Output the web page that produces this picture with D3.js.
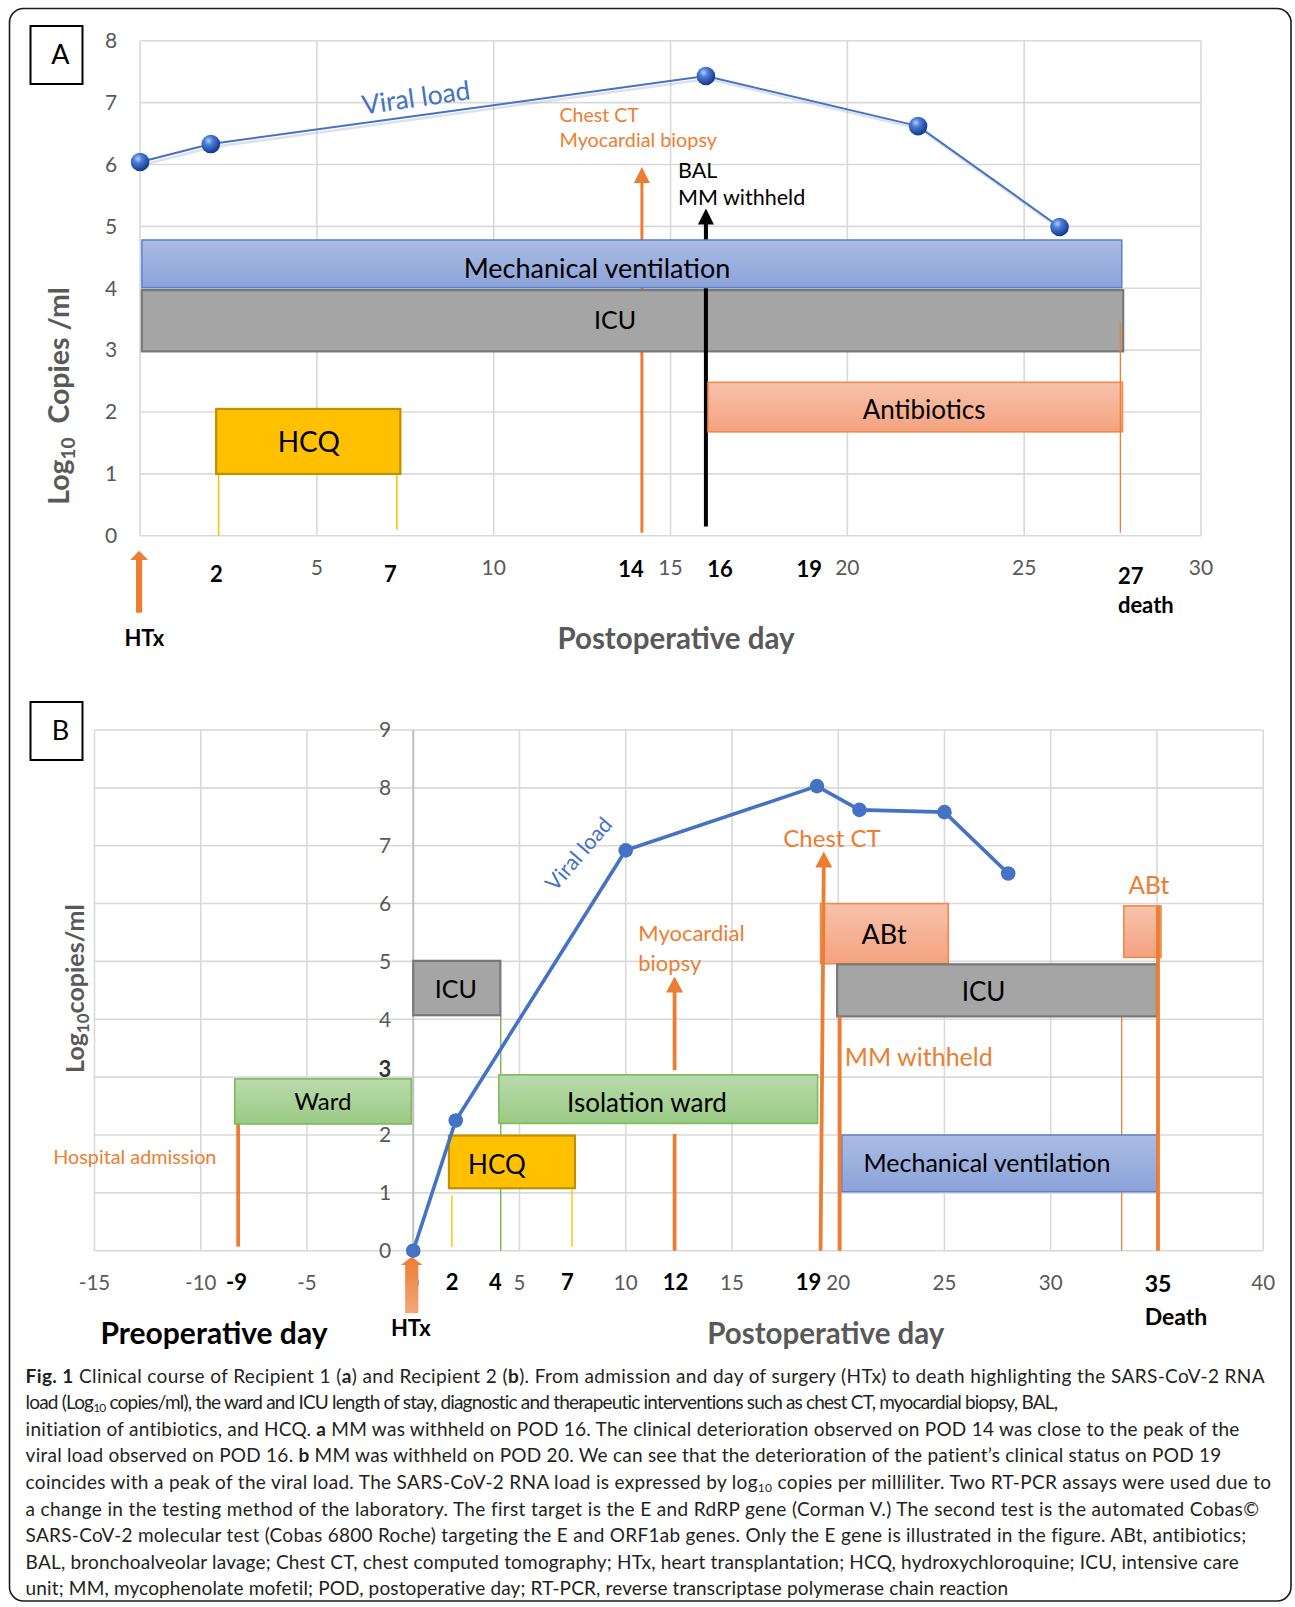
<!DOCTYPE html>
<html><head><meta charset="utf-8">
<script src="https://cdn.jsdelivr.net/npm/d3@7"></script>
<style>
body{margin:0;background:#fff}
svg{display:block}
text{font-family:Lato,"Open Sans",sans-serif}
</style>
</head><body>
<svg id="c" width="1295" height="1607"></svg>
<script>
// ---------------- DATA : Panel A (Recipient 1) ----------------
const daysA = [0, 2, 16, 22, 26];
const loadA = [6.04, 6.33, 7.43, 6.62, 4.99];
const xTicksA = [5, 10, 15, 20, 25, 30];
const yTicksA = [0, 1, 2, 3, 4, 5, 6, 7, 8];
const boldDaysA = [{t: "2", d: 2.16}, {t: "7", d: 7.08}, {t: "14", d: 13.88}, {t: "16", d: 16.4}, {t: "19", d: 18.92}];
const periodsA = [
  {name: "ICU", kind: "icu", start: 0.05, end: 27.8, lo: 2.98, hi: 3.97},
  {name: "Mechanical ventilation", kind: "mv", start: 0.05, end: 27.76, lo: 4.01, hi: 4.78},
  {name: "Antibiotics", kind: "abt", start: 16.06, end: 27.78, lo: 1.68, hi: 2.48},
  {name: "HCQ", kind: "hcq", start: 2.15, end: 7.36, lo: 1.0, hi: 2.05}
];
// event markers: day, from value, to value
const eventsA = [
  {id: "ct", day: 14.19, from: 0.05, to: 5.96, kind: "orangeArrow"},
  {id: "bal", day: 16.0, from: 0.15, to: 5.29, kind: "blackArrow"},
  {id: "hcq1", day: 2.22, from: 0.0, to: 1.0, kind: "yellow"},
  {id: "hcq2", day: 7.26, from: 0.1, to: 1.0, kind: "yellow"},
  {id: "death", day: 27.72, from: 0.05, to: 3.45, kind: "thinOrange"}
];

// ---------------- DATA : Panel B (Recipient 2) ----------------
const daysB = [0, 2, 10, 19, 21, 25, 28];
const loadB = [0, 2.25, 6.92, 8.03, 7.62, 7.58, 6.52];
const xTicksB = [-15, -10, -5, 0, 5, 10, 15, 20, 25, 30, 40];
const yTicksB = [0, 1, 2, 3, 4, 5, 6, 7, 8, 9];
const boldDaysB = [{t: "-9", d: -8.32}, {t: "2", d: 1.83}, {t: "4", d: 3.87}, {t: "7", d: 7.25}, {t: "12", d: 12.34}, {t: "19", d: 18.6}];
const periodsB = [
  {name: "ICU", kind: "icu", start: 0.0, end: 4.1, lo: 4.07, hi: 5.01},
  {name: "Ward", kind: "ward", start: -8.4, end: -0.09, lo: 2.19, hi: 2.97},
  {name: "Isolation ward", kind: "ward", start: 4.03, end: 19.03, lo: 2.2, hi: 3.04},
  {name: "HCQ", kind: "hcq", start: 1.68, end: 7.61, lo: 1.08, hi: 1.99},
  {name: "ABt", kind: "abt", start: 19.17, end: 25.18, lo: 4.96, hi: 6.0},
  {name: "", kind: "abt", start: 33.44, end: 35.19, lo: 5.07, hi: 5.96},
  {name: "ICU", kind: "icu", start: 19.95, end: 35.0, lo: 4.05, hi: 4.95},
  {name: "Mechanical ventilation", kind: "mv", start: 20.17, end: 34.99, lo: 1.02, hi: 2.0}
];
const eventsB = [
  {id: "green", day: 4.12, from: 0, to: 4.07, kind: "green", layer: "under"},
  {id: "hcq1", day: 1.82, from: 0.07, to: 0.96, kind: "yellow", layer: "under"},
  {id: "hcq2", day: 7.47, from: 0.07, to: 1.05, kind: "yellow", layer: "under"},
  {id: "adm", day: -8.24, from: 0.07, to: 2.19, kind: "orange", layer: "under"},
  {id: "bio1", day: 12.3, from: 0, to: 2.02, kind: "orange", layer: "under"},
  {id: "bio2", day: 12.3, from: 3.12, to: 4.74, kind: "orangeArrow", layer: "under"},
  {id: "thin", day: 33.34, from: 0, to: 4.05, kind: "thinOrange", layer: "under"},
  {id: "ct", day: 19.17, day2: 19.32, from: 0, to: 6.9, kind: "orangeArrow", layer: "over"},
  {id: "mm", day: 20.07, from: 0, to: 4.05, kind: "orange", layer: "over"},
  {id: "death", day: 35.05, from: 0, to: 5.96, kind: "orange", layer: "over"}
];

// ---------------- CAPTION ----------------
const captionLines = [
  [["b","Fig. 1"],["n"," Clinical course of Recipient 1 ("],["b","a"],["n",") and Recipient 2 ("],["b","b"],["n","). From admission and day of surgery (HTx) to death highlighting the SARS-CoV-2 RNA"]],
  [["n","load (Log"],["s","10"],["n"," copies/ml), the ward and ICU length of stay, diagnostic and therapeutic interventions such as chest CT, myocardial biopsy, BAL,"]],
  [["n","initiation of antibiotics, and HCQ. "],["b","a"],["n"," MM was withheld on POD 16. The clinical deterioration observed on POD 14 was close to the peak of the"]],
  [["n","viral load observed on POD 16. "],["b","b"],["n"," MM was withheld on POD 20. We can see that the deterioration of the patient\u2019s clinical status on POD 19"]],
  [["n","coincides with a peak of the viral load. The SARS-CoV-2 RNA load is expressed by log"],["s","10"],["n"," copies per milliliter. Two RT-PCR assays were used due to"]],
  [["n","a change in the testing method of the laboratory. The first target is the E and RdRP gene (Corman V.) The second test is the automated Cobas\u00a9"]],
  [["n","SARS-CoV-2 molecular test (Cobas 6800 Roche) targeting the E and ORF1ab genes. Only the E gene is illustrated in the figure. ABt, antibiotics;"]],
  [["n","BAL, bronchoalveolar lavage; Chest CT, chest computed tomography; HTx, heart transplantation; HCQ, hydroxychloroquine; ICU, intensive care"]],
  [["n","unit; MM, mycophenolate mofetil; POD, postoperative day; RT-PCR, reverse transcriptase polymerase chain reaction"]]
];
const captionEnds = [1265, 1059, 1241, 1222, 1271, 1259, 1247, 1239, 1009];

// ---------------- RENDER ----------------
const svg = d3.select("#c");
const defs = svg.append("defs");
function vgrad(id, top, bot) {
  const g = defs.append("linearGradient").attr("id", id).attr("x1", 0).attr("y1", 0).attr("x2", 0).attr("y2", 1);
  g.append("stop").attr("offset", "0%").attr("stop-color", top);
  g.append("stop").attr("offset", "100%").attr("stop-color", bot);
}
vgrad("gMV", "#AABCE4", "#8CA3D9");
vgrad("gAB", "#F7C2AB", "#F4A27F");
vgrad("gWD", "#BADBAC", "#9ACA84");
vgrad("gHTx", "#ED7D31", "#F4A679");
const sph = defs.append("radialGradient").attr("id", "gSph").attr("cx", "38%").attr("cy", "32%").attr("r", "68%");
sph.append("stop").attr("offset", "0%").attr("stop-color", "#B5CDF7");
sph.append("stop").attr("offset", "35%").attr("stop-color", "#4A7BD8");
sph.append("stop").attr("offset", "100%").attr("stop-color", "#16378A");

const ORANGE = "#ED7D31", BLUE = "#4472C4", GRID = "#D9D9D9", TICK = "#595959";
const styles = {
  mv:  {fill: "url(#gMV)", stroke: "#5B80CE", sw: 1.5},
  icu: {fill: "#A5A5A5", stroke: "#787878", sw: 2.2},
  abt: {fill: "url(#gAB)", stroke: "#F0894A", sw: 1.6},
  hcq: {fill: "#FFC000", stroke: "#BF9000", sw: 2.2},
  ward:{fill: "url(#gWD)", stroke: "#7DBA5E", sw: 1.6}
};

// outer frame
svg.append("rect").attr("x", 9.5).attr("y", 8.5).attr("width", 1281.5).attr("height", 1592.5)
  .attr("rx", 14).attr("fill", "none").attr("stroke", "#1a1a1a").attr("stroke-width", 1.6);

function panelBox(g, x, y, letter) {
  g.append("rect").attr("x", x).attr("y", y).attr("width", 52).attr("height", 58)
    .attr("fill", "#fff").attr("stroke", "#000").attr("stroke-width", 2);
  g.append("text").attr("x", x + 30).attr("y", y + 29).attr("dy", "0.35em").attr("text-anchor", "middle")
    .attr("font-size", 27).attr("fill", "#000").text(letter);
}

function vline(g, x1, y1, x2, y2, color, w) {
  g.append("line").attr("x1", x1).attr("y1", y1).attr("x2", x2).attr("y2", y2)
    .attr("stroke", color).attr("stroke-width", w);
}
function arrowUp(g, xb, yb, xt, yt, color, w, headW, headL) {
  vline(g, xb, yb, xt, yt + headL - 1, color, w);
  g.append("path").attr("d", `M${xt - headW / 2},${yt + headL} L${xt + headW / 2},${yt + headL} L${xt},${yt} Z`).attr("fill", color);
}
function drawPeriods(g, list, x, y) {
  g.selectAll(null).data(list).join("rect")
    .attr("x", d => x(d.start)).attr("y", d => y(d.hi))
    .attr("width", d => x(d.end) - x(d.start)).attr("height", d => y(d.lo) - y(d.hi))
    .attr("fill", d => styles[d.kind].fill).attr("stroke", d => styles[d.kind].stroke)
    .attr("stroke-width", d => styles[d.kind].sw);
}
function label(g, x, y, txt, size, opts = {}) {
  const t = g.append("text").attr("x", x).attr("y", y).attr("dy", "0.35em")
    .attr("text-anchor", opts.anchor || "middle").attr("font-size", size)
    .attr("font-weight", opts.weight || 400).attr("fill", opts.color || "#000").text(txt);
  if (opts.rotate) t.attr("transform", `rotate(${opts.rotate},${x},${y})`);
  return t;
}

// ============ PANEL A ============
{
  const x = d3.scaleLinear().domain([0, 30]).range([140.1, 1201]);
  const y = d3.scaleLinear().domain([0, 8]).range([535.8, 40.7]);
  const g = svg.append("g");
  panelBox(g, 30.5, 26, "A");

  // grid
  g.append("g").selectAll("line").data(yTicksA).join("line")
    .attr("x1", x(0)).attr("x2", x(30)).attr("y1", d => y(d)).attr("y2", d => y(d))
    .attr("stroke", GRID).attr("stroke-width", 1.6);
  g.append("g").selectAll("line").data([0].concat(xTicksA)).join("line")
    .attr("x1", d => x(d)).attr("x2", d => x(d)).attr("y1", y(0)).attr("y2", y(8))
    .attr("stroke", GRID).attr("stroke-width", 1.6);

  const ev = Object.fromEntries(eventsA.map(e => [e.id, e]));
  // under-layer markers
  arrowUp(g, x(ev.ct.day), y(ev.ct.from), x(ev.ct.day), y(ev.ct.to), ORANGE, 3, 16, 16);
  [ev.hcq1, ev.hcq2].forEach(e => vline(g, x(e.day), y(e.from), x(e.day), y(e.to), "#FFC000", 1.5));

  drawPeriods(g, periodsA.filter(p => p.kind === "icu"), x, y);
  arrowUp(g, x(ev.bal.day), y(ev.bal.from), x(ev.bal.day), y(ev.bal.to), "#000", 4, 16, 16);
  drawPeriods(g, periodsA.filter(p => p.kind !== "icu"), x, y);
  vline(g, x(ev.death.day), y(ev.death.from), x(ev.death.day), y(ev.death.to), ORANGE, 1.3);

  // period labels
  const pl = {"ICU": [13.43, 3.48, 25], "Mechanical ventilation": [12.92, 4.32, 27], "Antibiotics": [22.17, 2.03, 26], "HCQ": [4.77, 1.52, 28]};
  periodsA.forEach(p => { const o = pl[p.name]; label(g, x(o[0]), y(o[1]), p.name, o[2]); });

  // annotations
  label(g, x(11.86), y(6.8), "Chest CT", 19.5, {anchor: "start", color: ORANGE});
  label(g, x(11.86), y(6.39), "Myocardial biopsy", 19.8, {anchor: "start", color: ORANGE});
  label(g, x(15.21), y(5.91), "BAL", 21.5, {anchor: "start"});
  label(g, x(15.21), y(5.46), "MM withheld", 21.5, {anchor: "start"});
  label(g, x(7.8), y(7.08), "Viral load", 26.5, {color: BLUE, rotate: -8});

  // viral load
  const line = d3.line().x((d, i) => x(daysA[i])).y(d => y(d));
  g.append("path").datum(loadA).attr("d", line).attr("fill", "none").attr("stroke", "#9aa9c8")
    .attr("stroke-width", 2.5).attr("opacity", 0.35).attr("transform", "translate(2,3)");
  g.append("path").datum(loadA).attr("d", line).attr("fill", "none").attr("stroke", BLUE).attr("stroke-width", 2);
  g.selectAll(null).data(loadA).join("circle")
    .attr("cx", (d, i) => x(daysA[i])).attr("cy", d => y(d)).attr("r", 9.3).attr("fill", "url(#gSph)");

  // ticks
  g.selectAll(null).data(yTicksA).join("text").attr("x", 111).attr("y", d => y(d)).attr("dy", "0.35em")
    .attr("text-anchor", "middle").attr("font-size", 21).attr("fill", TICK).text(d => d);
  g.selectAll(null).data(xTicksA).join("text").attr("x", d => x(d)).attr("y", 567.7).attr("dy", "0.35em")
    .attr("text-anchor", "middle").attr("font-size", 21).attr("fill", TICK).text(d => d);
  g.selectAll(null).data(boldDaysA).join("text").attr("x", d => x(d.d)).attr("y", d => d.t.length > 1 ? 569.5 : 574)
    .attr("dy", "0.35em").attr("text-anchor", "middle").attr("font-size", 22).attr("font-weight", 700)
    .attr("fill", "#000").text(d => d.t);
  label(g, x(27.65), 576, "27", 22, {anchor: "start", weight: 700});
  label(g, x(27.65), 605, "death", 22, {anchor: "start", weight: 700});

  // HTx arrow
  const hx = x(0) - 1;
  g.append("rect").attr("x", hx - 3.1).attr("y", 559).attr("width", 6.2).attr("height", 53.7).attr("fill", ORANGE);
  g.append("path").attr("d", `M${hx - 9},560 L${hx + 9},560 L${hx},550.7 Z`).attr("fill", ORANGE);
  label(g, 144.3, 638.3, "HTx", 22, {weight: 700});

  // titles
  label(g, 676, 638.3, "Postoperative day", 29.5, {weight: 700, color: TICK});
  const yt = g.append("text").attr("transform", "translate(59.4,396) rotate(-90)").attr("dy", "0.35em")
    .attr("text-anchor", "middle").attr("font-size", 28.5).attr("font-weight", 700).attr("fill", TICK);
  yt.append("tspan").text("Log");
  yt.append("tspan").attr("font-size", 19).attr("dy", 6).text("10");
  yt.append("tspan").attr("dy", -6).text("\u00a0 Copies /ml");
}

// ============ PANEL B ============
{
  const x = d3.scaleLinear().domain([-15, 40]).range([94.5, 1263.2]);
  const y = d3.scaleLinear().domain([0, 9]).range([1250.7, 730]);
  const g = svg.append("g");
  panelBox(g, 30.5, 702, "B");

  const xGrid = d3.range(-15, 41, 5);
  g.append("g").selectAll("line").data(yTicksB).join("line")
    .attr("x1", x(-15)).attr("x2", x(40)).attr("y1", d => y(d)).attr("y2", d => y(d))
    .attr("stroke", GRID).attr("stroke-width", 1.6);
  g.append("g").selectAll("line").data(xGrid).join("line")
    .attr("x1", d => x(d)).attr("x2", d => x(d)).attr("y1", y(0)).attr("y2", y(9))
    .attr("stroke", d => d === 0 ? "#BFBFBF" : GRID).attr("stroke-width", d => d === 0 ? 2 : 1.6);

  const markColor = {green: "#70AD47", yellow: "#FFC000", orange: ORANGE, thinOrange: ORANGE, orangeArrow: ORANGE};
  const markW = {green: 1.3, yellow: 1.4, orange: 3.8, thinOrange: 1.3, orangeArrow: 3.8};
  function drawEvent(e) {
    const xb = x(e.day), xt = x(e.day2 !== undefined ? e.day2 : e.day);
    if (e.kind === "orangeArrow") arrowUp(g, xb, y(e.from), xt, y(e.to), ORANGE, 3.8, 17, 16);
    else vline(g, xb, y(e.from), xt, y(e.to), markColor[e.kind], markW[e.kind]);
  }
  eventsB.filter(e => e.layer === "under").forEach(drawEvent);
  drawPeriods(g, periodsB, x, y);
  eventsB.filter(e => e.layer === "over").forEach(drawEvent);

  // period labels (day, value, size)
  const pl = [[2.0, 4.52, 25], [-4.25, 2.58, 24], [11.0, 2.55, 26], [3.94, 1.48, 26], [22.16, 5.46, 27], null, [26.84, 4.47, 26], [27.0, 1.52, 25]];
  periodsB.forEach((p, i) => { const o = pl[i]; if (o && p.name) label(g, x(o[0]), y(o[1]), p.name, o[2]); });

  // annotations
  label(g, x(19.71), y(7.12), "Chest CT", 24, {color: ORANGE});
  label(g, x(10.59), y(5.49), "Myocardial", 22, {anchor: "start", color: ORANGE});
  label(g, x(10.59), y(4.97), "biopsy", 22, {anchor: "start", color: ORANGE});
  label(g, x(20.31), y(3.34), "MM withheld", 25, {anchor: "start", color: ORANGE});
  label(g, x(-16.94), y(1.61), "Hospital admission", 19.8, {anchor: "start", color: ORANGE});
  label(g, x(34.62), y(6.32), "ABt", 24.5, {color: ORANGE});
  label(g, x(7.79), y(6.86), "Viral load", 21.5, {color: BLUE, rotate: -49});

  // viral load
  const line = d3.line().x((d, i) => x(daysB[i])).y(d => y(d));
  g.append("path").datum(loadB).attr("d", line).attr("fill", "none").attr("stroke", BLUE).attr("stroke-width", 3.6);
  g.selectAll(null).data(loadB).join("circle")
    .attr("cx", (d, i) => x(daysB[i])).attr("cy", d => y(d)).attr("r", 7.3).attr("fill", BLUE);

  // y tick labels
  g.selectAll(null).data(yTicksB).join("text").attr("x", 385).attr("y", d => y(d) + (d === 3 ? -8 : 0))
    .attr("dy", "0.35em").attr("text-anchor", "middle")
    .attr("font-size", d => d === 3 ? 22 : 21).attr("font-weight", d => d === 3 ? 700 : 400)
    .attr("fill", d => d === 3 ? "#333" : TICK).text(d => d);
  // x tick labels
  g.selectAll(null).data(xTicksB).join("text").attr("x", d => x(d)).attr("y", 1283.3).attr("dy", "0.35em")
    .attr("text-anchor", "middle").attr("font-size", 20.5).attr("fill", TICK).text(d => d);
  g.selectAll(null).data(boldDaysB).join("text").attr("x", d => x(d.d)).attr("y", 1282)
    .attr("dy", "0.35em").attr("text-anchor", "middle").attr("font-size", 22).attr("font-weight", 700)
    .attr("fill", "#000").text(d => d.t);
  label(g, x(34.42), 1284, "35", 23, {anchor: "start", weight: 700});
  label(g, x(34.42), 1316.7, "Death", 23, {anchor: "start", weight: 700});

  // HTx block arrow
  const hx = x(0) - 1.5;
  g.append("path").attr("d", `M${hx - 6.6},1313.3 L${hx - 6.6},1265 L${hx - 10.8},1265 L${hx},1256.7 L${hx + 10.8},1265 L${hx + 6.6},1265 L${hx + 6.6},1313.3 Z`)
    .attr("fill", "url(#gHTx)");
  label(g, 410.8, 1328.3, "HTx", 22, {weight: 700});

  label(g, 214, 1333.3, "Preoperative day", 30, {weight: 700});
  label(g, 825.8, 1333.3, "Postoperative day", 29.5, {weight: 700, color: TICK});
  const yt = g.append("text").attr("transform", "translate(74.8,988.6) rotate(-90)").attr("dy", "0.35em")
    .attr("text-anchor", "middle").attr("font-size", 25).attr("font-weight", 700).attr("fill", TICK);
  yt.append("tspan").text("Log");
  yt.append("tspan").attr("font-size", 17).attr("dy", 5).text("10");
  yt.append("tspan").attr("dy", -5).text("copies/ml");
}

// ============ CAPTION ============
{
  const g = svg.append("g");
  captionLines.forEach((parts, i) => {
    const t = g.append("text").attr("x", 25.6).attr("y", 1382.5 + i * 26.6)
      .attr("font-size", 19).attr("fill", "#231F20");
    parts.forEach(([k, s], j) => {
      const sp = t.append("tspan").text(s);
      if (k === "b") sp.attr("font-weight", 700);
      if (k === "s") sp.attr("font-size", 12).attr("dy", 3);
      if (j > 0 && parts[j - 1][0] === "s") sp.attr("dy", -3);
    });
    // fit the line to its measured width in the reference through letter spacing
    const natural = t.node().getComputedTextLength();
    const nChars = parts.reduce((a, p) => a + p[1].length, 0);
    const target = captionEnds[i] - 25.6;
    t.attr("letter-spacing", ((target - natural) / Math.max(1, nChars - 1)).toFixed(3));
  });
}
</script>
</body></html>
